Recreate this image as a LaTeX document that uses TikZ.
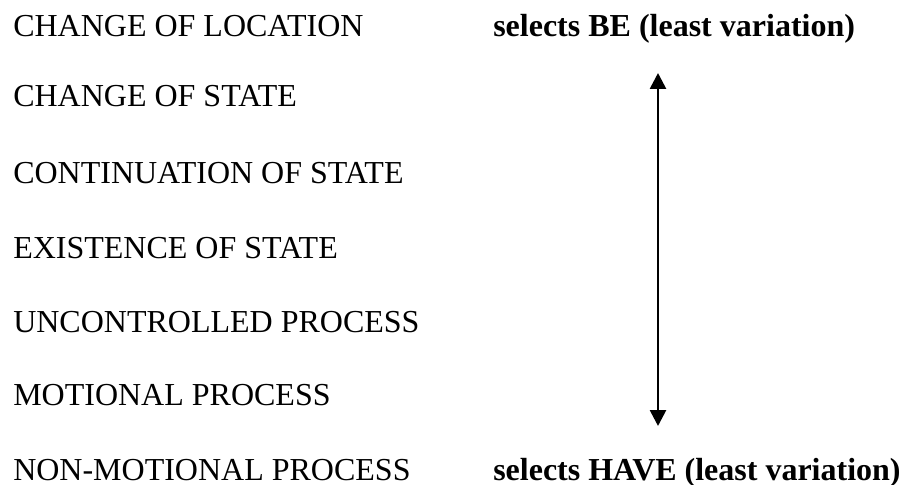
\documentclass[tikz,border=0pt]{standalone}
\usepackage{fontspec}
\setmainfont{Liberation Serif}
\usepackage{tikz}
\usetikzlibrary{arrows.meta}
\tikzset{%
	class label/.style={
		anchor=base west,
		inner sep=0pt,
		font=\fontsize{24}{28}\selectfont
	},
	select label/.style={
		class label,
		font=\fontsize{24}{28}\selectfont\bfseries
	},
}

\begin{document}
\begin{tikzpicture}[x=0.75pt, y=-0.75pt]
			
			\useasboundingbox (0,0) rectangle (906,485);
			
			\node[class label] (loc) at (13,37) {CHANGE OF LOCATION};
			\node[class label] (chst) at (13,107) {CHANGE OF STATE};
			\node[class label] (cont) at (13,183) {CONTINUATION OF STATE};
			\node[class label] (exist) at (13,258) {EXISTENCE OF STATE};
			\node[class label] (uncon) at (13,332) {UNCONTROLLED PROCESS};
			\node[class label] (motion) at (13,405) {MOTIONAL PROCESS};
			\node[class label] (nonmot) at (13,480) {NON-MOTIONAL PROCESS};
			
			\node[select label] (be) at (493,37) {selects BE (least variation)};
			\node[select label] (have) at (493,480) {selects HAVE (least variation)};
			
			\coordinate (top) at (658,73);
			\coordinate (bot) at (658,426);
			\draw[{Triangle[width=12pt, length=12pt]}-{Triangle[width=12pt, length=12pt]}, line width=2pt] (top) -- (bot);
			
		\end{tikzpicture}
\end{document}
